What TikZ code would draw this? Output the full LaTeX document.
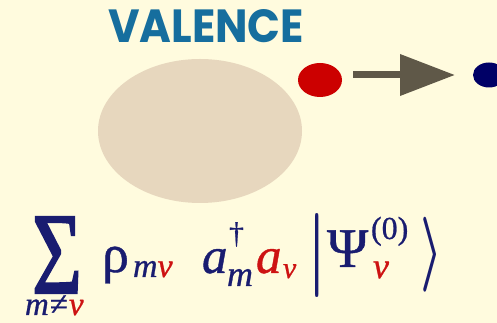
\RequirePackage{fix-cm}
\documentclass[tikz,border=0pt]{standalone}
\usepackage{fontspec}
\usepackage{graphicx}
\usetikzlibrary{shapes.geometric,arrows.meta}
\newfontfamily\lib{Liberation Serif}[FakeBold=0.8]
\newfontfamily\libS{Liberation Serif}[FakeBold=1.8]
\newfontfamily\pop{Poppins}
\definecolor{bgc}{RGB}{255,251,222}
\definecolor{nucc}{RGB}{231,215,190}
\definecolor{valc}{RGB}{22,110,158}
\definecolor{arrc}{RGB}{95,88,72}
\definecolor{reddot}{RGB}{204,0,0}
\definecolor{bluedot}{RGB}{0,0,102}
\definecolor{navyc}{RGB}{25,28,112}
\definecolor{redc}{RGB}{205,18,18}
\newcommand\fs[1]{\fontsize{#1}{#1}\selectfont}
\tikzset{
  txt/.style={inner sep=0pt, outer sep=0pt, anchor=base west, text=navyc},
  dot/.style={ellipse, inner sep=0pt, outer sep=0pt},
  arrowline/.style={draw=arrc, line width=7pt, -{Triangle[length=55pt,width=40pt]}}
}
\begin{document}
\begin{tikzpicture}[x=1pt,y=1pt]
\useasboundingbox (0,0) rectangle (497,323);
\clip (0,0) rectangle (497,323);
\fill[bgc] (0,0) rectangle (497,323);
% title
\node[inner sep=0pt, anchor=south west, text=valc] (val) at (108,280) {\resizebox{196pt}{33pt}{\pop\bfseries VALENCE}};
% nucleus
\node[dot, fill=nucc, minimum width=204pt, minimum height=144pt] (nuc) at (200,192) {};
% electron and hole
\node[dot, fill=reddot, minimum width=44pt, minimum height=34pt] (rd) at (320,243) {};
\node[dot, fill=bluedot, minimum width=32pt, minimum height=25pt] (bd) at (489,248) {};
\draw[arrowline, shorten <=11pt, shorten >=18pt] (rd.east |- bd.west) -- (bd.west);
% formula
\node[txt] (sig) at (32,30) {\resizebox{50pt}{76pt}{\libS Σ}};
\node[txt, text height=16pt, text depth=0pt] (lim) at (25,8) {\fs{33}\lib\itshape m\kern1pt\upshape ≠\kern1pt\itshape\color{redc}v};
\node[txt] (rho) at (102,51) {\fs{54}\lib ρ};
\node[txt] (sub1) at (133,46) {\fs{34}\lib\itshape m\color{redc}v};
\node[txt] (a1) at (202,50) {\fs{51}\lib\itshape a};
\node[txt] (dag) at (229,80) {\fs{30}\lib †};
\node[txt] (sub2) at (227,37) {\fs{36}\lib\itshape m};
\node[txt, text=redc] (a2) at (256,50) {\fs{51}\lib\itshape a};
\node[txt, text=redc] (sub3) at (283,45) {\fs{30}\lib\itshape v};
\node[inner sep=0pt, outer sep=0pt, anchor=base, text=navyc] (bar) at (317,46) {\fs{84}$|$};
\node[txt] (psi) at (327,56) {\fs{56}\lib Ψ};
\node[txt] (sup) at (371,84) {\fs{32}\lib (0)};
\node[txt, text=redc] (sub4) at (373,45) {\fs{36}\lib\itshape v};
\node[txt] (ket) at (420,49) {\scalebox{1}[1.5]{\fs{50}\boldmath$\rangle$}};
\end{tikzpicture}
\end{document}
